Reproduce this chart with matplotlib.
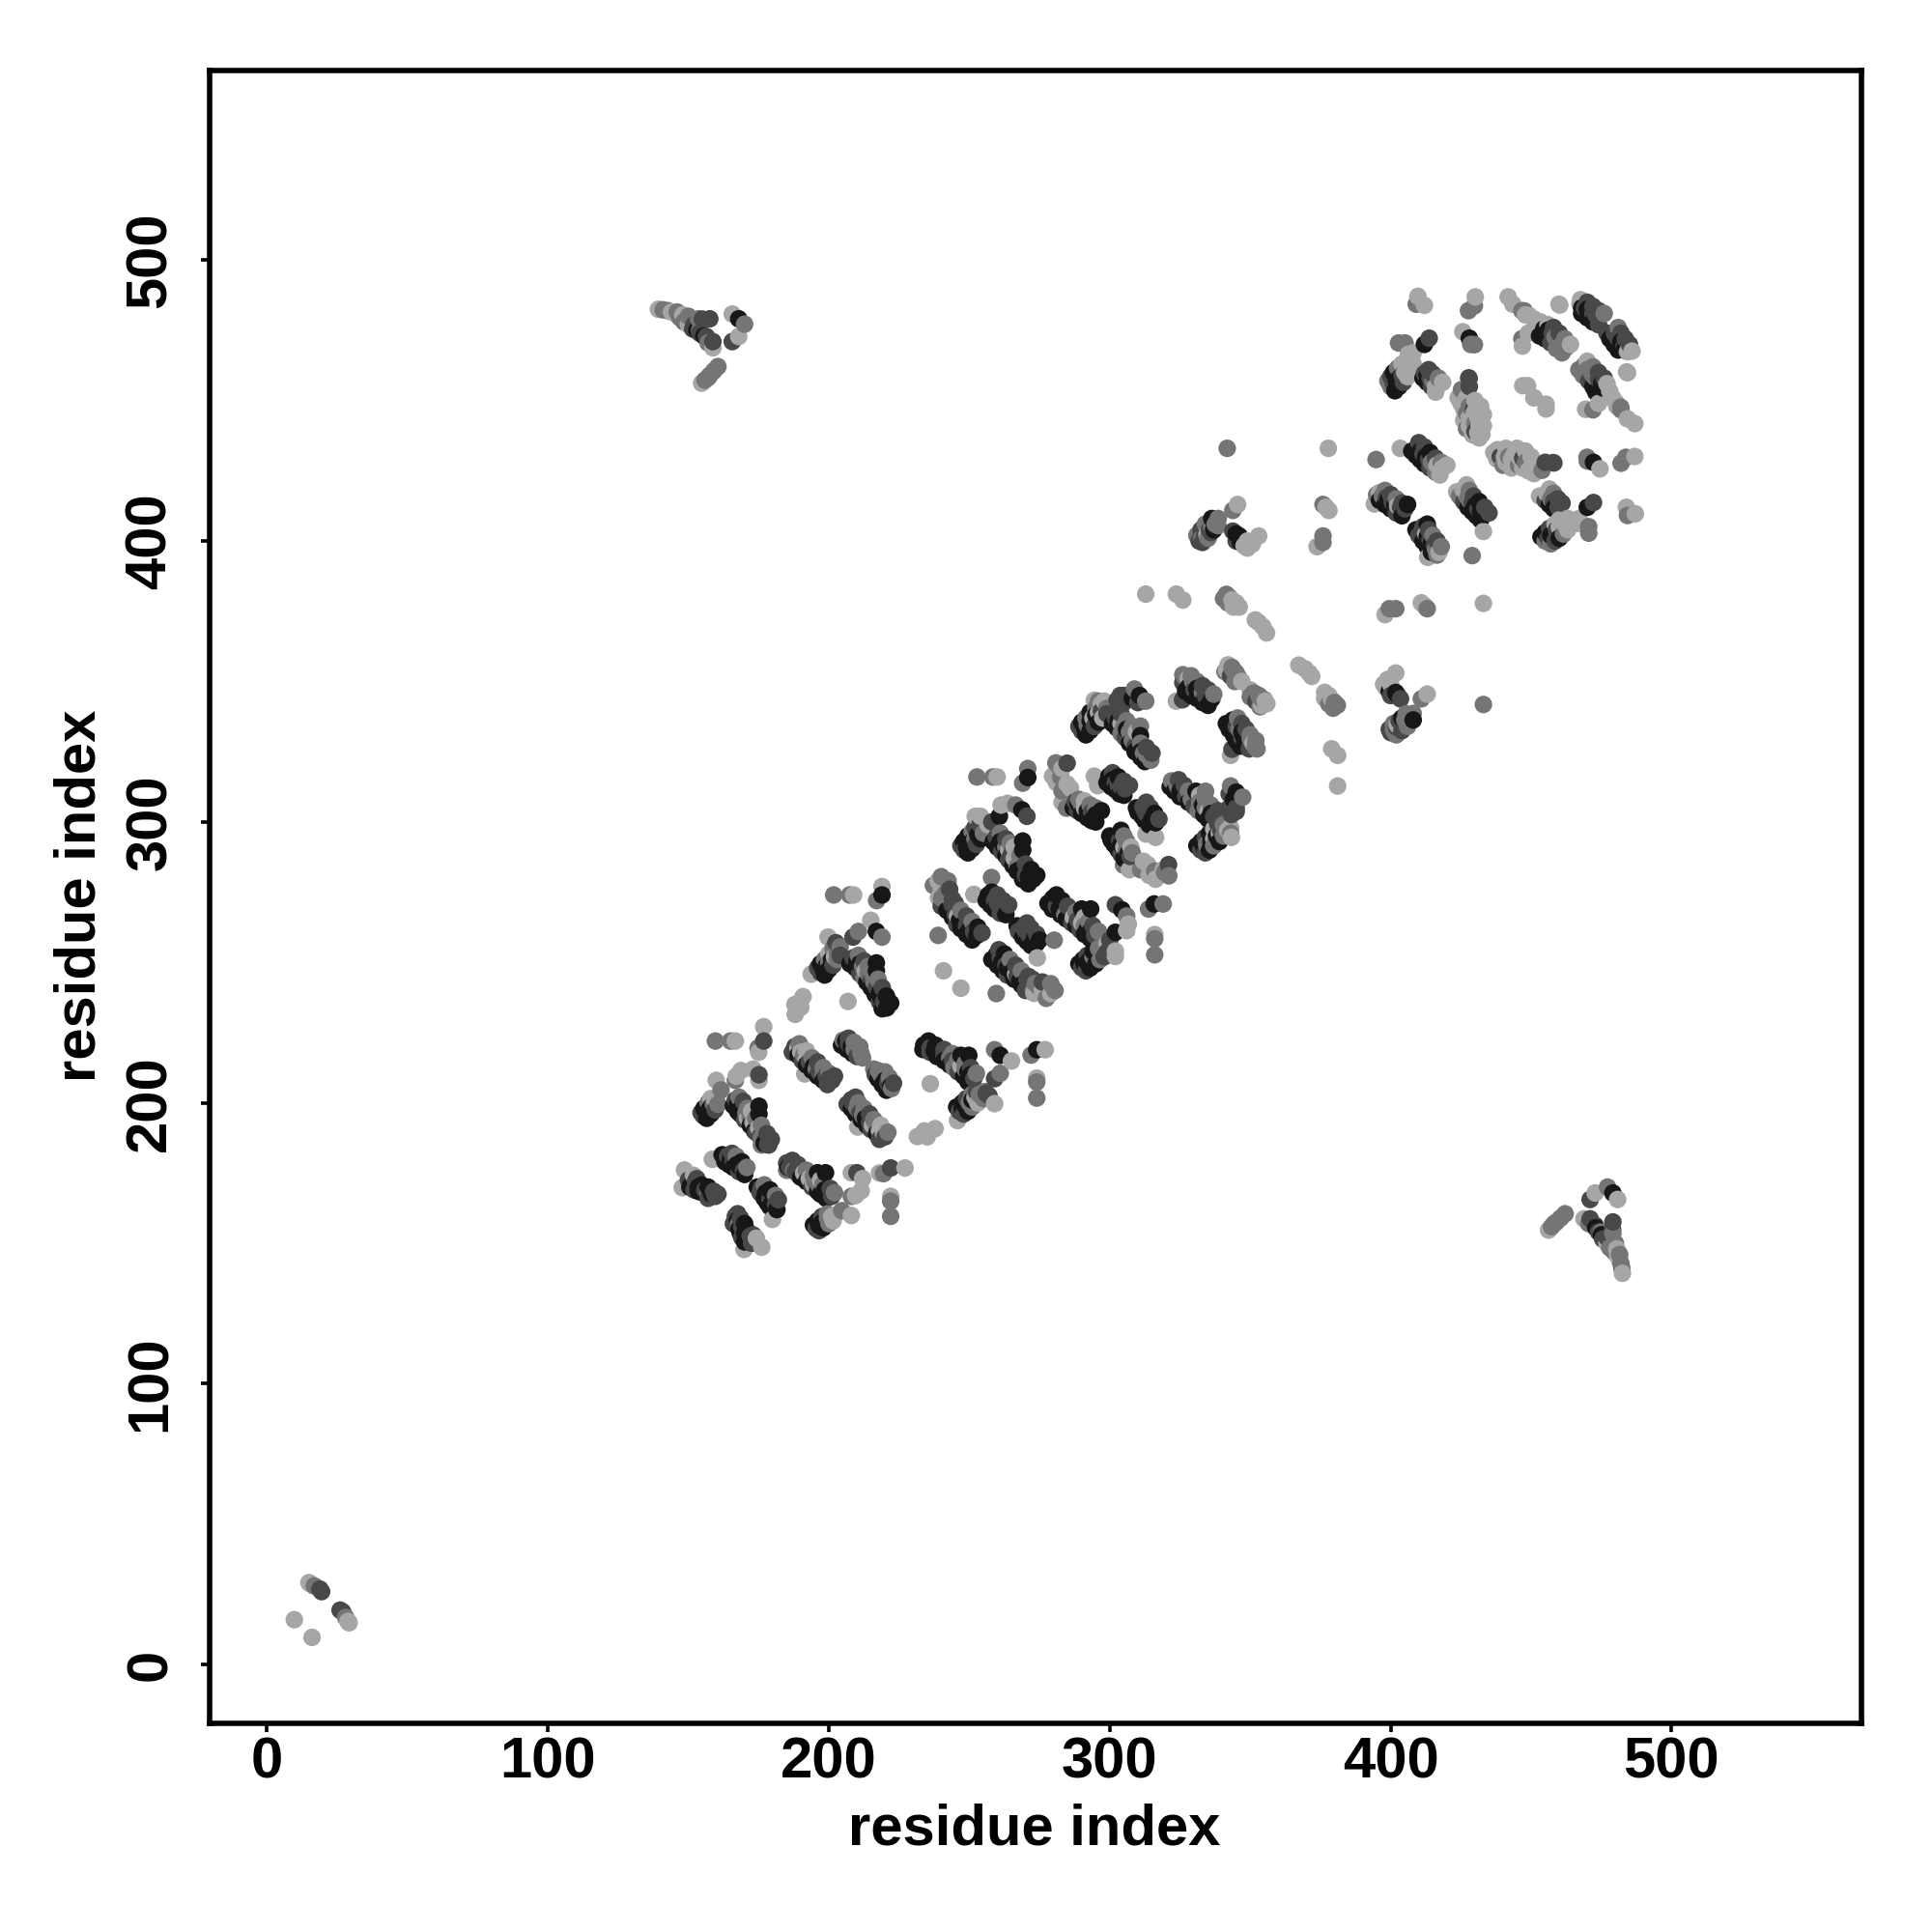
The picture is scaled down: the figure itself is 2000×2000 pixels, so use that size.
import numpy as np
import matplotlib
matplotlib.use('Agg')
import matplotlib.pylab as plt

light = [(9.7,16),(14.9,29.2),(15.4,28.8),
    (139.3,482.5),(144,481.5),(145.6,480.8),(150,477),(158.7,468.8),(165.6,480.8),(167.9,472.8),(154.7,456.2),
    (148.6,176.1),(151.8,174.2),(147.8,169.8),(158.5,179.9),(159.5,201),(160,202),(159.9,208),(168.7,211.5),(167,209.5),(173,212),(175.1,208),
    (166.7,222),(176.8,227.1),(175,218),(171,194.5),(173,193),(175,191),
    (189,219.5),(190,218),(192,215.5),(191.4,210.3),(188,231.5),(190.8,237.8),(187.9,235),(190,234),(193.7,245.8),(202,252),(199.7,259),
    (208.8,274),(214.9,265),(218.9,277),(213,247),(206.8,236.1),(240.8,247),
    (252.1,302),(254,302),(256.7,299),(261.3,306),(263.6,306.6),(259.9,316),(264,290),(266,287),(251.6,274.2),(238.9,279),(239,273),(245.8,266.5),
    (279.6,316.3),(284.8,313.5),(283,319),(291,305),(294.5,316.3),(295.7,312.9),(294,337),(296,339),(294.5,343.3),(304,335),
    (328,351),(323.7,343),(342.1,355.9),(350,347),(355.3,343),(312.8,381.1),(323.7,381.1),(326,379),(343.5,379),(345,378),(346.1,376.5),
    (351.8,371.9),(353,371),(354.5,369.5),(355.8,367.3),(334.6,402.3),(345.5,413),(347.8,398.3),(349,400),(350.7,398.9),(353,401.8),
    (377,412),(378,410.9),(373.8,398),(377.8,433),(403.4,433),(416.5,427),(418.3,425.8),(396,417.2),(402.5,412.5),(394.2,413.2),
    (409.7,487.1),(412,483.9),(430.1,486.9),(441.8,486.9),(443.5,484.3),(448,480.5),(449.2,480.3),(451,479),(453.3,478),(446.9,469.4),(449,474),
    (459.9,484.3),(467.4,484.3),(467.6,485.9),(406.3,466.5),(408,467),(405,460),(406.3,461.9),(416,455),(417,455.5),(408,463),(407,465),
    (425.7,474.5),(424,451),(425,449),(426,447),(428,444),(429,443),(431.5,441.3),(431.5,436.7),(429.2,437.8),(431,438.5),(432.5,438),
    (447,455.3),(448.7,455.3),(429.8,445.8),(425.2,449.2),(451,451),(484,460.2)]
mid = [(16.8,28),
    (141,482.3),(142.7,482),(147,479.5),(148.4,478),(153.6,479.1),(170,477.2),(155.9,457.3),(157,458.2),(157.6,459),(159,460.5),(160.5,462.1),
    (157,167.9),(158.9,199.5),(161.6,204.6),(166.7,208),(159.6,222),(165,222),(174.8,219.5),(170.5,196.5),(172,195),(176,187.5),
    (191,217),(195.5,212),(198,210),(205.1,222.3),(209,219),(210,218.5),(211.4,217.7),(200,250),(203,253.5),(204,255.5),
    (201.7,274),(207.4,274),(210.5,261),(218.9,259),(217,272),(212,248.5),(214,246),(216,243),
    (252,294),(258.4,316),(252.7,316),(266.5,306),(270.8,319),(269,313.8),(263,291),(267,284),(257.9,280.2),(237.2,277.4),(242.4,279),(240.1,272.8),(238.9,259.6),
    (280.8,321),(284.6,304.9),(282.5,316),(290,306),(292,334.5),(299,340.4),(296,343),(305,334),(307,332),(308,329),(310.9,334.1),(312,324.5),(313,324),(314.6,322),(308.8,347.3),(312.8,343),
    (326,352.4),(329.5,350),(333,346),(326.6,351.8),(343.5,355),(345,353),(344,354),(351.2,345.9),(352,345.5),(353.5,344.5),(341.5,381),(342.5,380),
    (332.8,401),(336.3,405),(338.6,408),(337.5,406),(343.8,410.9),(341.8,433),(375.9,413),(375.9,401.8),(375.9,399.5),
    (394.8,429),(414.5,428),(415.5,427.5),(395,416.5),(397,416),
    (409.1,484.3),(429.8,483.7),(427.7,482),(446.7,482),(458.5,472.5),(459.6,471.7),(461,470),(462.4,468.8),(446.7,472),(402.8,470.5),(405.1,470.5),(400,455),(415,457),
    (429.8,469.9),(428.5,470),(425.2,453.9),(427,445.5),(430,442),(447.6,481.9)]
dark = [(18.8,26.9),(19.4,26),
    (151.5,475.5),(155,479),(156.4,472.8),(157.6,479.1),(158.7,471),(165.6,471),
    (150,172.5),(152.5,172),(155.8,169),(159.6,166.7),(163.9,181),(166,179),(169.6,175.9),(155.3,195.4),(175.1,210),(176.8,222),(166.7,201),(174,189.5),(177,186),(178.2,185.1),(178.6,185),
    (187.9,220),(193,214.5),(196.5,211),(199,209.5),(200,208.5),(201.1,208),(207,221),(197,246.4),(203.4,256),(208.6,259),(208.6,251.6),(215,244),(217,241),(219.5,236),
    (248.1,290),(253.8,299.1),(258,300),(270.5,302),(259.6,294.6),(265,288.5),(270,281),(243.9,270.5),(245,267),(249,263),(251.5,261),(259,272),(260,271),(261,270),(262.4,269.3),
    (284.8,320.9),(287.7,307.2),(293.5,303.5),(302,314),(303,313),(304,312.5),(305.4,311.8),(290,332.4),(297,339.5),(302.6,343.3),(305,345),(303.7,345),(302,337),(309,327),(325.9,343.5),
    (326,349.6),(330,347),(334,345),(331.8,400),(333.8,402),(335.5,404),(343.8,403.5),
    (411.5,431),(413.5,429),(398.5,415.5),(400.5,414),(403.5,412),(405.1,411.5),
    (457.5,474),(469,483),(472,481),(473,480.5),(473.9,479.7),(413.7,472.2),(401,456),(404,459),(412,459.6),(414,458),(427.8,458.1),(428,455),(427.9,457.8),(430,439)]
black = [(153,475),(167.9,479.1),
    (151.3,171.3),(153.5,170),(154.7,170.7),(158.2,167.5),(162,181.5),(165,180),(167.2,178),(168,177.5),(156.3,196.5),(157.3,197.5),(158,198.5),
    (167.5,199.5),(169,198.5),(175.1,198.8),(175.1,196),
    (194.5,213),(206,222),(208,220),(198,247.5),(199,248.5),(201,251),(216.9,261),(218.9,274),(210,250.5),(211,249.5),(216.9,249.8),(216.9,247),(218,239),(218.5,237.5),(220.6,233.8),
    (249,291),(250,292),(251,293),(253,295.5),(260.7,302),(268.7,304.3),(270.8,315.8),(261,293),(262,292),(269,293.2),(269,290),(268,283),(269,282),(271,280.5),(272.8,279.7),
    (243.5,268),(246.5,265),(248,263.5),(250,261.5),(252.7,259.6),(256.7,273.9),(258,273),
    (288.8,306.5),(292,304),(295.1,302.6),(299.7,316.3),(301,315),(291,333.5),(293,336),(295,338),(303,336),(306,333),(310.9,330.7),(310,326),(311,325),(310.6,345),
    (328,348),(331,347.5),(332,347),(336.3,343.8),(336.3,408),(345,402.5),(346.1,401.8),
    (409.5,433),(410.5,432),(412.5,430),(399,414.5),(401.5,413),
    (454.5,475.5),(456.1,475.1),(468,483),(470,482.5),(471,482),(412,470),(402,457),(403,458),(413,459),(428,472.2)]

# side contacts that make the bands wider than one dot
light_band = [(158,201.5),(172.5,197),(192,218.5),(200,253),(266,291),(291,307.5),(297,342),(309.5,332),(344,376.5),(354,341.5),
    (417.5,423.5),(420,427),(406,458.5),(407.5,460),(404,463),(416,453),(418.5,456.5),(426,443),(428,441),(430,440.5),(433,441),(433,445),
    (431,444),(430,450),(432,448),(427,451),(349,397.5),(148,480.5),(240,276),(281,314),(283,307),(286,312),(298,343),(456,477),(464,470),(297.5,337)]
mid_band = [(170.8,177),(167,181),(160.5,199.5),(157,200),(176,185),(168,202),(171,198),(174,194.5),(176,192),(189.5,221),(194,216),(198,212.5),
    (200,210.5),(212,216),(209,221.5),(211,220),(203,251),(198.5,251),(201.5,255),(212.5,244.5),(210.5,252.5),(214,248.5),(215.5,246),(217.5,244),
    (255,296),(251,296.5),(261,296),(264.5,292.5),(268,288),(242.5,273.5),(247,268.5),(251,264.5),(289,308),(293,306),(295,305),(291.5,337),(295,340.5),
    (304,331.5),(306,336),(308,334),(311,328),(329,352),(331,350),(337,345.5),(340.5,379.5),(342,378),(341,353.5),(345,350.5),(350,344.5),(352,343),
    (416,424.5),(418,428),(398,418),(402,415),(476,481),(459,468.5),(461,467),(462,472),(399,457),(402.5,461.5),(417,458),(427,440),(428,448),
    (335,401),(338.5,405.5),(331,402),(334,406),(150,480),(146,481.5),(154,475),(157,470.5),(240,280.5),(241.5,274.5),(282,319.5),(283,311)]
dark_band = [(152,169),(157,166),(153,173),(159,168.5),(160.5,167.5),(168,175.5),(165.5,182),(159.5,197.5),(154.5,196.5),(170,194),(175.5,188),(169.5,200.5),
    (178,189),(179.5,187),(187,218),(190.5,215),(199.5,206.5),(196,214.5),(202,209.5),(210,216.5),(207,223),(201.5,249),(204,252.5),(196,248),(202.5,257),
    (211,246),(218,236),(212.5,250.5),(219,241),(252.5,292),(247,291.5),(252,298),(261.5,289.5),(264,286.5),(263,294),(270,285),(240,270),(245.5,263.5),
    (245,271),(249,266.5),(254.5,260.5),(261,267.5),(260,274),(262,272),(264,270.5),(288.5,304),(301,317.5),(305,314.5),(307,313),(294.5,334),(299,338.5),
    (289,334),(305.5,330),(304,338.5),(313,326.5),(315,324.5),(333,348.5),(335,347),(343,352),(414,426),(410,435),(412,433.5),(416,429.5),(402,410),
    (400,416.5),(404,413.5),(474,477),(470,485),(472,483.5),(474,482),(457,470.5),(458,476),(460,474),(404.5,456.5),(400,458.5),(414.5,455),(413.5,461),
    (415,459.5),(429.5,447),(333,399.5),(336,403),(332.5,404),(345,400),(152,477),(154,474),(243,276),(244,272.5),(305,342.5),(310,342.5)]
black_band = [(150.5,170),(153.5,168.5),(155,168),(157,170),(163,179),(164.5,178),(166,177),(170,174.5),(169,179),(156.5,194.5),(158,196),(155.5,198),
    (166,199),(167.5,197),(168.5,196),(172,192),(173.5,190),(177,185.5),(189,217),(192,213.5),(194,211.5),(196,209.5),(198,208),(204.5,220.5),(206.5,219),
    (208.5,217.5),(198.5,245.5),(200,247.5),(197,249.5),(207.5,249.5),(209.5,248),(213.5,243),(215,241),(216.5,238.5),(219,233.5),(220.5,238),(222,235.5),
    (249.5,289),(251,290.5),(254,294),(248,293),(249.5,295),(258.5,293),(260,291),(263,288),(265.5,284.5),(267,282.5),(269,279.5),(271,278),(272,283),(274,281),
    (242,268.5),(244,266),(247,262),(249,260),(251,258),(253,262.5),(256,272),(257.5,270.5),(259,269),(263,267),(258,275),(287,305),(290,303),(292,301.5),
    (293.5,300.5),(295,300),(297,304),(299,314),(300.5,312.5),(302,311.5),(303.5,310),(305,309.5),(303,316),(291.5,331),(293,332.5),(296,335.5),(290,335.5),
    (293,339),(301,335),(302.5,333.5),(307,328),(309,325),(311,323),(312.5,321.5),(327,346.5),(329,345),(331,344),(333,342.5),(335,341.5),(407.5,432),
    (409,430.5),(410.5,429),(412,427.5),(414,431.5),(396,414.5),(398,413),(400,411.5),(404,409),(406,413),(468,481),(470,479.5),(472,478),(453,473),(455,472),
    (401.5,453.5),(403,455),(401,460),(411.5,458),(413,456.5),(337,404),(346.5,399.5),(155.5,473),(308,344)]

light_grey, mid_grey, dark_grey, black_grey = '#a6a6a6', '#757575', '#484848', '#171717'

XTICKS = [0, 100, 200, 300, 400, 500]
FONTSIZE = 43

i, j, colors = [], [], []
for pairs, c in zip([light+light_band, mid+mid_band, dark+dark_band, black+black_band],
                    [light_grey, mid_grey, dark_grey, black_grey]):
    for p in pairs:
        i += [p[0], p[1]]
        j += [p[1], p[0]]
        colors += [c, c]
i, j, colors = np.array(i), np.array(j), np.array(colors)
order = np.argsort(i, kind='stable')

plt.rcParams['font.family'] = ['Liberation Sans', 'DejaVu Sans']
plt.rcParams['font.weight'] = 'bold'

fig = plt.figure(figsize=(20, 20), dpi=100)
ax = fig.add_axes([216.7/2000, 216./2000, 1710.3/2000, 1711.3/2000])
ax.scatter(i[order], j[order], s=172, c=colors[order], linewidths=0)

ax.set_xlim(-20.56, 567.6)
ax.set_ylim(-20.9, 567.6)
ax.set_xticks(XTICKS)
ax.set_yticks(XTICKS)
ax.tick_params(axis='both', length=6.7, width=2.6, labelsize=FONTSIZE)
ax.tick_params(axis='x', pad=3)
ax.tick_params(axis='y', pad=17)
for t in ax.get_yticklabels():
    t.set_rotation(90)
    t.set_va('center')
for s in ax.spines.values():
    s.set_linewidth(4.0)

fig.text(1071/2000, 1-1910/2000, 'residue index', ha='center', va='baseline', fontsize=FONTSIZE, fontweight='bold')
fig.text(111/2000, 1-927/2000, 'residue index', ha='right', va='center', rotation=90, fontsize=FONTSIZE, fontweight='bold')

fig.savefig('out.png', dpi=100)
